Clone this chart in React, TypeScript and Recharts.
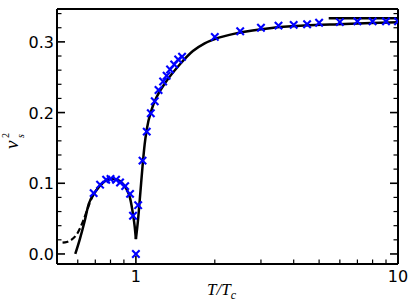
import { ComposedChart, Line, Scatter, XAxis, YAxis, Label } from "recharts";

// sampled points (blue crosses)
const markerT = [0.69, 0.73, 0.77, 0.8, 0.84, 0.87, 0.91, 0.95, 0.975, 1.0, 1.02, 1.06, 1.1, 1.14, 1.18, 1.22, 1.27, 1.31, 1.35, 1.4, 1.45, 1.5, 2, 2.5, 3, 3.5, 4, 4.5, 5, 6, 7, 8, 9, 10];
const markerV = [0.086, 0.098, 0.105, 0.106, 0.105, 0.101, 0.096, 0.085, 0.054, 0, 0.069, 0.132, 0.173, 0.199, 0.216, 0.232, 0.244, 0.252, 0.261, 0.268, 0.275, 0.279, 0.307, 0.315, 0.32, 0.323, 0.324, 0.325, 0.327, 0.328, 0.329, 0.329, 0.329, 0.329];

// solid curve, below Tc
const lowT = [0.587, 0.61, 0.637, 0.66, 0.7, 0.75, 0.8, 0.85, 0.89, 0.92, 0.95, 0.975, 0.99, 1.0];
const lowV = [0, 0.02, 0.046, 0.07, 0.088, 0.101, 0.1065, 0.105, 0.0995, 0.092, 0.079, 0.056, 0.038, 0.021];

// solid curve, above Tc
const highT = [1.0, 1.02, 1.04, 1.06, 1.08, 1.1, 1.15, 1.2, 1.3, 1.47, 1.65, 1.83, 2.0, 2.45, 3.3, 4.4, 5.9, 7.9, 10];
const highV = [0.021, 0.05, 0.087, 0.124, 0.155, 0.176, 0.205, 0.222, 0.243, 0.268, 0.287, 0.298, 0.304, 0.3126, 0.3197, 0.323, 0.325, 0.3267, 0.3277];

// dashed curve (joins the solid one)
const dashT = [0.525, 0.545, 0.567, 0.6, 0.628, 0.656, 0.68, 0.7, 0.75];
const dashV = [0.016, 0.017, 0.02, 0.03, 0.046, 0.065, 0.08, 0.088, 0.101];

// conformal limit 1/3
const limitT = [5.44, 10];
const limitV = [1 / 3, 1 / 3];

const xMajor = [1, 10];
const xTicks = [0.6, 0.7, 0.8, 0.9, 1, 2, 3, 4, 5, 6, 7, 8, 9, 10];
const yMajor = [0, 0.1, 0.2, 0.3];
const yTicks = [0, 0.02, 0.04, 0.06, 0.08, 0.1, 0.12, 0.14, 0.16, 0.18, 0.2, 0.22, 0.24, 0.26, 0.28, 0.3, 0.32, 0.34];

const zip = (t: number[], v: number[]) => t.map((T, i) => ({ T, v: v[i] }));

const markers = zip(markerT, markerV);
const low = zip(lowT, lowV);
const high = zip(highT, highV);
const dashed = zip(dashT, dashV);
const limit = zip(limitT, limitV);

const FONT = "'DejaVu Sans', sans-serif";
const MATH = "'Liberation Serif', 'DejaVu Serif', serif";

function makeTick(side: string, majors: number[], fmt?: (v: number) => string) {
  return (props: any) => {
    const { x, y, payload } = props;
    const val = payload.value;
    const major = majors.some((m) => Math.abs(m - val) < 1e-9);
    const len = major ? 8 : 4.5;
    const sw = major ? 1.6 : 1.2;
    let x2 = x, y2 = y;
    if (side === "bottom") y2 = y - len;
    if (side === "top") y2 = y + len;
    if (side === "left") x2 = x + len;
    if (side === "right") x2 = x - len;
    return (
      <g>
        <line x1={x} y1={y} x2={x2} y2={y2} stroke="#000" strokeWidth={sw} />
        {fmt && major && side === "bottom" && (
          <text x={x} y={y + 18} textAnchor="middle" fontSize={16} fontFamily={FONT} fill="#000">
            {fmt(val)}
          </text>
        )}
        {fmt && major && side === "left" && (
          <text x={x - 3} y={y + 6} textAnchor="end" fontSize={16} fontFamily={FONT} fill="#000">
            {fmt(val)}
          </text>
        )}
      </g>
    );
  };
}

const cross = (props: any) => {
  const { cx, cy } = props;
  const r = 3.7;
  return (
    <g stroke="#0000ff" strokeWidth={2.1}>
      <line x1={cx - r} y1={cy - r} x2={cx + r} y2={cy + r} />
      <line x1={cx - r} y1={cy + r} x2={cx + r} y2={cy - r} />
    </g>
  );
};

const xLabel = (props: any) => {
  const { viewBox } = props;
  const cx = viewBox.x + viewBox.width / 2 - 6;
  return (
    <text x={cx} y={viewBox.y + 30.5} textAnchor="middle" fontFamily={MATH} fontStyle="italic" fontSize={17} fill="#000">
      T/T
      <tspan fontSize={12} dy={4}>c</tspan>
    </text>
  );
};

const yLabel = () => (
  <g transform="translate(15,140) rotate(-90)" fontFamily={MATH} fontStyle="italic" fill="#000">
    <text x={-9} y={3} fontSize={19}>v</text>
    <text x={2} y={-6} fontSize={10} fontStyle="normal">2</text>
    <text x={2} y={9} fontSize={10}>s</text>
  </g>
);

export default function App() {
  const axisLine = { stroke: "#000", strokeWidth: 2 };
  return (
    <div style={{ position: "absolute", left: 0, top: 0, background: "#fff" }}>
      <ComposedChart width={411} height={308} margin={{ top: 0, right: 0, bottom: 0, left: 0 }}>
        <XAxis
          dataKey="T"
          type="number"
          scale="log"
          domain={[0.5, 10]}
          allowDataOverflow
          ticks={xTicks}
          interval={0}
          height={44}
          tickSize={0}
          tickMargin={0}
          tickLine={false}
          axisLine={axisLine}
          tick={makeTick("bottom", xMajor, (v) => String(v))}
        >
          <Label content={xLabel} />
        </XAxis>
        <XAxis
          xAxisId="top"
          orientation="top"
          type="number"
          scale="log"
          domain={[0.5, 10]}
          allowDataOverflow
          ticks={xTicks}
          interval={0}
          height={9}
          tickSize={0}
          tickMargin={0}
          tickLine={false}
          axisLine={axisLine}
          tick={makeTick("top", xMajor)}
        />
        <YAxis
          dataKey="v"
          type="number"
          domain={[-0.0142, 0.3465]}
          allowDataOverflow
          ticks={yTicks}
          interval={0}
          width={57}
          tickSize={0}
          tickMargin={0}
          tickLine={false}
          axisLine={axisLine}
          tick={makeTick("left", yMajor, (v) => v.toFixed(1))}
        >
          <Label content={yLabel} />
        </YAxis>
        <YAxis
          yAxisId="right"
          orientation="right"
          type="number"
          domain={[-0.0142, 0.3465]}
          allowDataOverflow
          ticks={yTicks}
          interval={0}
          width={13}
          tickSize={0}
          tickMargin={0}
          tickLine={false}
          axisLine={axisLine}
          tick={makeTick("right", yMajor)}
        />
        <Line data={dashed} dataKey="v" type="monotone" stroke="#000" strokeWidth={2.2} strokeDasharray="6 3" dot={false} activeDot={false} isAnimationActive={false} />
        <Line data={low} dataKey="v" type="monotone" stroke="#000" strokeWidth={2.5} dot={false} activeDot={false} isAnimationActive={false} />
        <Line data={high} dataKey="v" type="monotone" stroke="#000" strokeWidth={2.5} dot={false} activeDot={false} isAnimationActive={false} />
        <Line data={limit} dataKey="v" type="linear" stroke="#000" strokeWidth={2.5} dot={false} activeDot={false} isAnimationActive={false} />
        <Scatter data={markers} dataKey="v" shape={cross} isAnimationActive={false} />
      </ComposedChart>
    </div>
  );
}
